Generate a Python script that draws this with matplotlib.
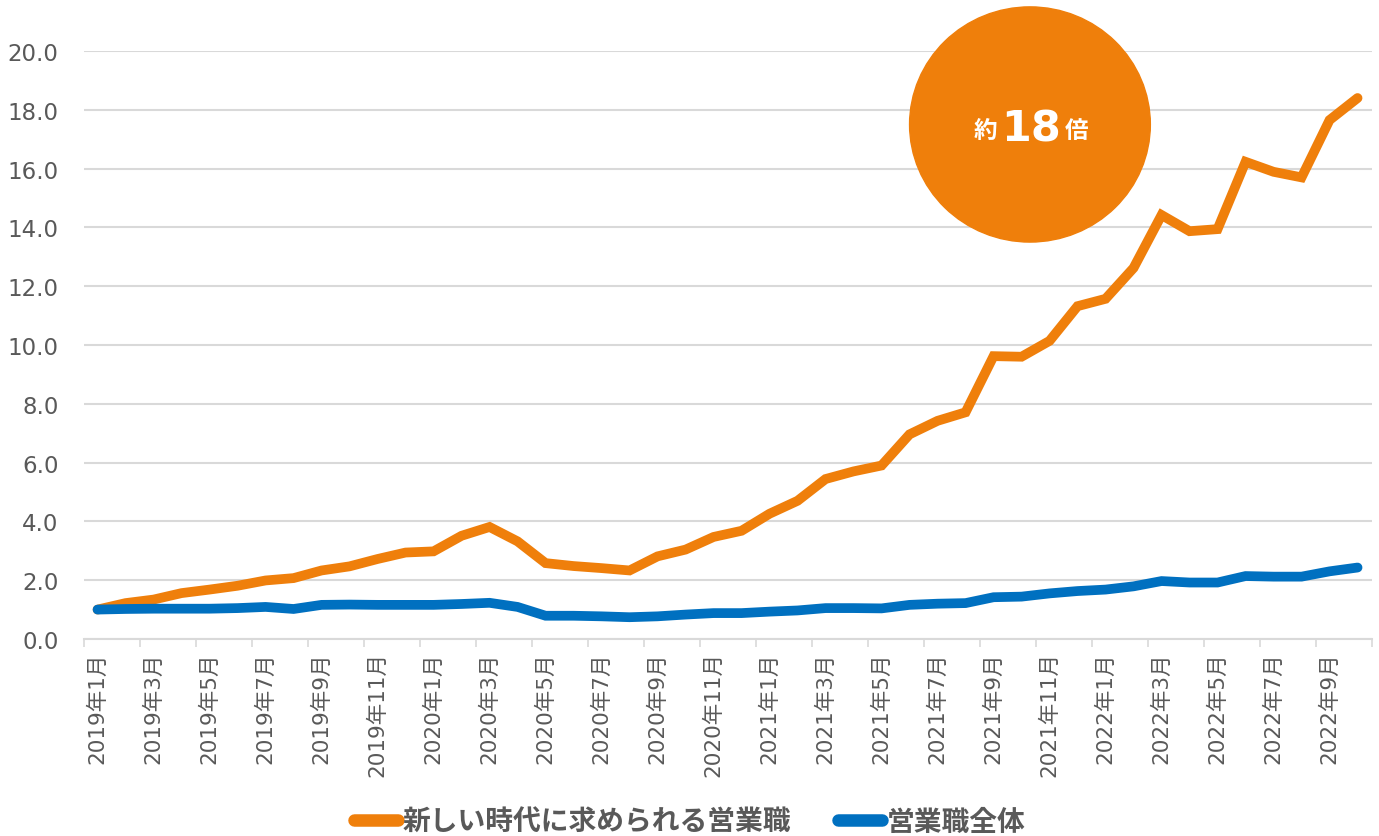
import matplotlib
matplotlib.use("Agg")
import matplotlib.pyplot as plt
from matplotlib.patches import Ellipse
import numpy as np

plt.rcParams['font.family'] = ['DejaVu Sans', 'Noto Sans CJK JP']

# 2019年1月 .. 2022年10月
years = [2019, 2020, 2021, 2022]
months = [f"{y}年{m}月" for y in years for m in range(1, 13)][:46]

new_sales = [1.00, 1.22, 1.34, 1.56, 1.68, 1.81, 1.99, 2.07, 2.33, 2.47, 2.72, 2.94,
             2.98, 3.51, 3.81, 3.32, 2.58, 2.48, 2.41, 2.33, 2.81, 3.04, 3.47, 3.68,
             4.26, 4.70, 5.44, 5.70, 5.90, 6.96, 7.42, 7.71, 9.62, 9.60, 10.14, 11.32,
             11.57, 12.62, 14.42, 13.87, 13.94, 16.23, 15.89, 15.70, 17.65, 18.40]
all_sales = [1.00, 1.02, 1.03, 1.03, 1.03, 1.05, 1.09, 1.02, 1.16, 1.17, 1.16, 1.16,
             1.16, 1.19, 1.23, 1.09, 0.79, 0.79, 0.77, 0.74, 0.77, 0.83, 0.88, 0.88,
             0.93, 0.97, 1.05, 1.05, 1.04, 1.16, 1.20, 1.22, 1.42, 1.44, 1.55, 1.63,
             1.68, 1.79, 1.97, 1.92, 1.92, 2.14, 2.12, 2.12, 2.30, 2.43]
series_names = ["新しい時代に求められる営業職", "営業職全体"]
callout = ("約", "18", "倍")

orange = "#EF7F0B"
blue = "#0070C0"
grey = "#595959"
grid_c = "#D9D9D9"

fig = plt.figure(figsize=(13.79, 8.37), dpi=100)
ax = fig.add_axes([0.0606, 0.2354, 0.934, 0.7025])

x = np.arange(len(months))
ax.plot(x, new_sales, color=orange, lw=7, solid_capstyle='round', solid_joinstyle='miter',
        label=series_names[0], zorder=3)
ax.plot(x, all_sales, color=blue, lw=7, solid_capstyle='round', solid_joinstyle='miter',
        label=series_names[1], zorder=3)

ax.set_xlim(-0.5, len(months) - 0.5)
ax.set_ylim(0, 20)
ax.set_yticks(np.arange(0, 21, 2))
ax.set_yticklabels([f"{v:.1f}" for v in np.arange(0, 21, 2)])
ax.grid(True, axis='y', color=grid_c, lw=1.5)
ax.set_axisbelow(True)

# labels every 2 months, tick marks on category boundaries
ax.set_xticks(x[::2])
ax.set_xticklabels(months[::2], rotation=90, fontsize=15.5, color=grey)
ax.set_xticks(np.arange(-0.5, len(months), 2), minor=True)
ax.tick_params(axis='x', which='major', length=0, pad=9)
ax.tick_params(axis='x', which='minor', length=6, color=grid_c, width=1.2)
ax.tick_params(axis='y', length=0, labelsize=16.5, labelcolor=grey, pad=18)

for s in ['top', 'right', 'left']:
    ax.spines[s].set_visible(False)
ax.spines['bottom'].set_color(grid_c)
ax.spines['bottom'].set_linewidth(1.5)

# callout circle
ax.add_patch(Ellipse((33.3, 17.5), 8.6, 8.0, color=orange, clip_on=False, zorder=4))
ax.text(31.7, 17.3, callout[0], color='white', fontsize=17, fontweight='bold',
        ha='center', va='center', zorder=5)
ax.text(33.35, 17.35, callout[1], color='white', fontsize=31, fontweight='bold',
        ha='center', va='center', zorder=5)
ax.text(34.95, 17.3, callout[2], color='white', fontsize=17, fontweight='bold',
        ha='center', va='center', zorder=5)

leg = fig.legend(loc='lower center', bbox_to_anchor=(0.5, -0.03), ncol=2, frameon=False,
                 handlelength=1.6, handletextpad=0.15, columnspacing=1.7,
                 prop={'size': 20, 'weight': 'bold'})
for t in leg.get_texts():
    t.set_color(grey)
for h in leg.get_lines():
    h.set_linewidth(9)

fig.savefig("out.png", dpi=100)
